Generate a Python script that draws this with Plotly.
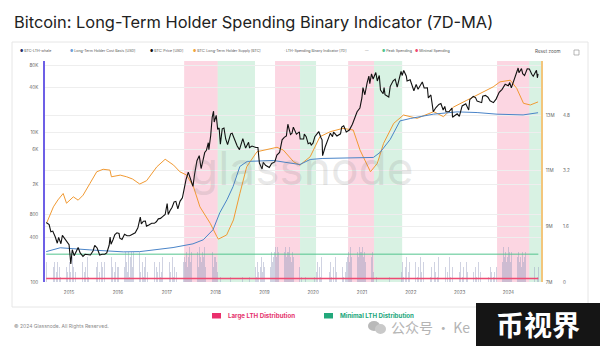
import pandas as pd
import plotly.graph_objects as go

FONT = "Inter, Roboto, 'Noto Sans', sans-serif"

# ---------------- data ----------------
# BTC price [USD]
price_points = [
    ("2014-07-14", 625), ("2014-07-25", 600), ("2014-08-05", 585), ("2014-08-18", 470),
    ("2014-09-01", 480), ("2014-09-20", 400), ("2014-10-05", 330), ("2014-10-15", 395),
    ("2014-11-01", 325), ("2014-11-12", 420), ("2014-12-01", 380), ("2014-12-15", 345),
    ("2015-01-01", 315), ("2015-01-14", 175), ("2015-01-25", 270), ("2015-02-08", 225),
    ("2015-02-20", 245), ("2015-03-10", 290), ("2015-03-25", 245), ("2015-04-15", 220),
    ("2015-05-01", 235), ("2015-05-20", 235), ("2015-06-10", 230), ("2015-06-30", 262),
    ("2015-07-12", 310), ("2015-07-30", 285), ("2015-08-18", 230), ("2015-09-05", 235),
    ("2015-09-25", 235), ("2015-10-10", 245), ("2015-10-28", 310), ("2015-11-04", 400),
    ("2015-11-11", 320), ("2015-11-25", 365), ("2015-12-10", 430), ("2015-12-25", 455),
    ("2016-01-10", 445), ("2016-01-16", 385), ("2016-02-01", 370), ("2016-02-20", 435),
    ("2016-03-10", 415), ("2016-03-30", 415), ("2016-04-20", 440), ("2016-05-10", 455),
    ("2016-05-30", 530), ("2016-06-17", 740), ("2016-06-25", 600), ("2016-07-10", 650),
    ("2016-07-25", 655), ("2016-08-02", 560), ("2016-08-20", 580), ("2016-09-10", 610),
    ("2016-09-30", 610), ("2016-10-15", 640), ("2016-10-30", 700), ("2016-11-15", 710),
    ("2016-12-01", 750), ("2016-12-20", 800), ("2017-01-04", 1120), ("2017-01-12", 800),
    ("2017-01-25", 900), ("2017-02-10", 1000), ("2017-02-25", 1180), ("2017-03-10", 1200),
    ("2017-03-25", 950), ("2017-04-10", 1200), ("2017-04-28", 1340), ("2017-05-10", 1750),
    ("2017-05-25", 2350), ("2017-06-11", 2950), ("2017-06-25", 2500), ("2017-07-16", 1900),
    ("2017-07-28", 2750), ("2017-08-15", 4200), ("2017-09-01", 4900), ("2017-09-15", 3300),
    ("2017-09-30", 4300), ("2017-10-12", 5400), ("2017-10-25", 5800), ("2017-11-08", 7300),
    ("2017-11-12", 5900), ("2017-11-26", 9200), ("2017-12-07", 16000), ("2017-12-17", 19300),
    ("2017-12-22", 13800), ("2018-01-06", 17000), ("2018-01-17", 11000), ("2018-01-28", 11500),
    ("2018-02-06", 7000), ("2018-02-20", 11200), ("2018-03-05", 11500), ("2018-03-18", 8200),
    ("2018-04-01", 6900), ("2018-04-24", 9600), ("2018-05-05", 9800), ("2018-05-29", 7400),
    ("2018-06-12", 6600), ("2018-06-29", 5900), ("2018-07-24", 8300), ("2018-08-14", 6200),
    ("2018-08-31", 7000), ("2018-09-05", 7400), ("2018-09-12", 6300), ("2018-10-01", 6600),
    ("2018-10-30", 6300), ("2018-11-14", 6300), ("2018-11-25", 3900), ("2018-12-15", 3250),
    ("2018-12-24", 4000), ("2019-01-10", 3650), ("2019-02-07", 3400), ("2019-02-25", 3850),
    ("2019-03-20", 4050), ("2019-04-05", 5000), ("2019-04-25", 5400), ("2019-05-14", 8000),
    ("2019-05-30", 8600), ("2019-06-15", 9000), ("2019-06-26", 12900), ("2019-07-16", 9400),
    ("2019-07-27", 9800), ("2019-08-06", 11800), ("2019-08-29", 9500), ("2019-09-20", 10200),
    ("2019-09-26", 8200), ("2019-10-22", 8200), ("2019-10-27", 9500), ("2019-11-10", 8800),
    ("2019-11-25", 7100), ("2019-12-10", 7300), ("2019-12-18", 6800), ("2019-12-31", 7200),
    ("2020-01-14", 8800), ("2020-02-12", 10300), ("2020-02-28", 8600), ("2020-03-08", 8000),
    ("2020-03-12", 4900), ("2020-03-31", 6400), ("2020-04-29", 8800), ("2020-05-09", 9800),
    ("2020-05-25", 8800), ("2020-06-02", 10100), ("2020-06-27", 9000), ("2020-07-24", 9600),
    ("2020-08-02", 11800), ("2020-08-17", 12300), ("2020-09-05", 10200), ("2020-09-28", 10800),
    ("2020-10-21", 12900), ("2020-11-05", 15600), ("2020-11-25", 19000), ("2020-12-16", 21300),
    ("2020-12-31", 29000), ("2021-01-08", 40000), ("2021-01-22", 32000), ("2021-02-08", 46000),
    ("2021-02-21", 57000), ("2021-02-28", 45000), ("2021-03-13", 61000), ("2021-03-25", 52000),
    ("2021-04-14", 63500), ("2021-04-25", 49000), ("2021-05-10", 58000), ("2021-05-19", 37000),
    ("2021-06-08", 33000), ("2021-06-15", 40000), ("2021-06-22", 32000), ("2021-07-20", 29800),
    ("2021-07-31", 41500), ("2021-08-22", 49300), ("2021-09-06", 51800), ("2021-09-21", 40600),
    ("2021-10-06", 55000), ("2021-10-20", 66000), ("2021-10-28", 58000), ("2021-11-09", 67500),
    ("2021-11-28", 57000), ("2021-12-04", 49000), ("2021-12-27", 50700), ("2022-01-10", 41800),
    ("2022-01-24", 36200), ("2022-02-10", 44000), ("2022-02-24", 38000), ("2022-03-28", 47400),
    ("2022-04-11", 39500), ("2022-05-05", 39700), ("2022-05-12", 29000), ("2022-05-31", 31800),
    ("2022-06-18", 19000), ("2022-07-08", 21600), ("2022-07-30", 23800), ("2022-08-14", 24400),
    ("2022-08-31", 20000), ("2022-09-12", 22300), ("2022-09-21", 19000), ("2022-10-15", 19100),
    ("2022-11-05", 21300), ("2022-11-09", 16000), ("2022-11-30", 17100), ("2022-12-14", 17800),
    ("2022-12-30", 16500), ("2023-01-20", 22700), ("2023-02-16", 24300), ("2023-03-10", 20000),
    ("2023-03-18", 27500), ("2023-04-13", 30400), ("2023-04-30", 29300), ("2023-05-12", 26300),
    ("2023-06-15", 25100), ("2023-06-23", 30600), ("2023-07-13", 31400), ("2023-08-01", 29700),
    ("2023-08-17", 26600), ("2023-09-11", 25100), ("2023-10-01", 28000), ("2023-10-24", 34500),
    ("2023-11-15", 37800), ("2023-12-08", 44200), ("2023-12-31", 42300), ("2024-01-11", 46600),
    ("2024-01-23", 39500), ("2024-02-15", 52000), ("2024-02-29", 62500), ("2024-03-14", 73000),
    ("2024-03-20", 63000), ("2024-04-08", 71600), ("2024-04-17", 61300), ("2024-05-01", 57800),
    ("2024-05-21", 71400), ("2024-06-06", 71000), ("2024-06-24", 60300), ("2024-07-05", 56600),
    ("2024-07-29", 68000), ("2024-08-05", 54000), ("2024-08-10", 60800),
]
price_dates = [d for d, _ in price_points]
price_usd = [v for _, v in price_points]

# Long-Term Holder cost basis [USD]
basis_dates = [
    "2014-07-14", "2014-10-27", "2015-06-06", "2016-02-10", "2016-06-13", "2017-02-17",
    "2017-07-16", "2017-10-01", "2017-12-13", "2018-02-02", "2018-03-28", "2018-05-12",
    "2018-07-02", "2018-08-26", "2019-03-08", "2019-09-02", "2019-09-24", "2019-12-10",
    "2020-03-14", "2021-03-27", "2021-05-16", "2021-07-31", "2021-10-12", "2021-12-28",
    "2022-06-18", "2022-12-13", "2023-05-12", "2023-10-08", "2024-04-20", "2024-08-10",
]
basis_usd = [
    255, 287, 269, 253, 255, 289,
    324, 367, 500, 846, 1265, 1890,
    3515, 4105, 4230, 3850, 3730, 4360,
    4500, 4640, 5420, 8100, 14300, 15400,
    17600, 18900, 18500, 17600, 17200, 18400,
]

# Long-Term Holder supply [million BTC]
supply_dates = [
    "2014-07-20", "2014-09-06", "2014-10-10", "2014-11-18", "2014-12-13", "2015-02-02",
    "2015-03-10", "2015-04-16", "2015-06-06", "2015-07-27", "2015-09-13", "2015-11-03",
    "2015-11-14", "2016-01-19", "2016-03-07", "2016-04-20", "2016-06-13", "2016-08-03",
    "2016-10-19", "2016-12-20", "2017-02-21", "2017-04-09", "2017-05-30", "2017-07-20",
    "2017-09-06", "2017-11-22", "2018-01-11", "2018-01-22", "2018-03-25", "2018-05-15",
    "2018-07-02", "2018-08-22", "2018-11-07", "2019-01-19", "2019-04-06", "2019-05-23",
    "2019-08-08", "2019-09-24", "2019-12-10", "2020-02-21", "2020-05-08", "2020-08-11",
    "2020-10-27", "2020-12-17", "2021-03-05", "2021-04-25", "2021-06-11", "2021-08-26",
    "2021-11-07", "2022-02-17", "2022-06-21", "2022-09-02", "2022-11-18", "2023-02-24",
    "2023-06-03", "2023-09-09", "2023-10-30", "2024-01-15", "2024-03-03", "2024-04-23",
    "2024-06-13", "2024-08-10",
]
supply_mbtc = [
    9.15, 9.70, 9.95, 10.18, 9.83, 10.06,
    9.94, 10.12, 10.54, 10.96, 11.05, 11.02,
    10.78, 10.84, 10.78, 10.70, 10.52, 10.64,
    11.14, 11.41, 11.20, 10.96, 10.84, 10.42,
    9.70, 9.11, 8.63, 8.54, 8.69, 9.23,
    10.18, 11.14, 11.68, 11.76, 11.84, 11.74,
    11.32, 11.20, 11.50, 12.22, 12.40, 12.52,
    12.46, 11.74, 10.96, 11.26, 11.98, 12.70,
    13.00, 12.88, 13.12, 12.94, 13.29, 13.53,
    13.78, 14.01, 14.19, 14.25, 13.96, 13.42,
    13.36, 13.47,
]

# LTH spending binary indicator: flagged days inside each weekly 7-day window
spend_starts = ["2014-07-14", "2015-01-05", "2016-01-04", "2017-01-02", "2018-01-01", "2018-12-31",
                "2019-12-30", "2020-12-28", "2021-12-27", "2022-12-26", "2023-12-25"]
spend_2014 = [4, 0, 3, 1, 0, 4, 2, 0, 3, 4, 0, 2, 4, 0, 3, 1, 4, 3, 0, 2, 4, 0, 3, 2, 0]
spend_2015 = [4, 2, 0, 5, 3, 0, 2, 4, 0, 1, 3, 5, 2, 0, 4, 0, 2, 3, 0, 5, 1, 0, 4, 3, 0, 1,
              5, 2, 0, 3, 4, 0, 2, 0, 4, 3, 0, 4, 2, 0, 3, 0, 2, 4, 0, 5, 3, 0, 2, 4, 0, 3]
spend_2016 = [3, 0, 4, 2, 5, 1, 6, 3, 6, 4, 2, 6, 1, 5, 6, 3, 6, 2, 4, 6, 1, 5, 3, 6, 2, 0,
              4, 1, 3, 5, 0, 2, 4, 0, 1, 3, 5, 2, 0, 4, 0, 3, 2, 0, 4, 1, 2, 5, 0, 3, 2, 0]
spend_2017 = [1, 3, 0, 4, 2, 0, 5, 1, 3, 0, 2, 4, 0, 1, 3, 5, 0, 2, 4, 5, 4, 6, 3, 5, 7, 4,
              6, 5, 3, 6, 7, 4, 5, 6, 3, 7, 5, 4, 6, 5, 7, 3, 6, 4, 5, 7, 6, 4, 5, 6, 3, 5]
spend_2018 = [5, 4, 2, 0, 0, 1, 0, 0, 0, 0, 1, 0, 0, 0, 0, 0, 1, 0, 0, 0, 0, 0, 0, 1, 0, 0,
              0, 0, 0, 1, 0, 0, 0, 0, 0, 0, 1, 0, 0, 0, 0, 1, 0, 3, 1, 4, 2, 0, 3, 5, 2, 4]
spend_2019 = [3, 5, 0, 4, 6, 2, 5, 3, 6, 4, 5, 6, 7, 5, 7, 6, 6, 4, 7, 6, 5, 4, 6, 7, 5, 6,
              6, 7, 5, 4, 6, 5, 6, 7, 4, 5, 6, 5, 3, 0, 1, 0, 0, 0, 1, 0, 0, 0, 0, 1, 0, 0]
spend_2020 = [0, 0, 1, 0, 2, 4, 0, 3, 1, 5, 0, 2, 4, 1, 0, 3, 6, 0, 2, 4, 1, 0, 3, 0, 5, 2,
              0, 1, 4, 0, 2, 0, 3, 1, 0, 2, 4, 5, 6, 4, 7, 5, 6, 7, 5, 6, 4, 7, 6, 5, 7, 6]
spend_2021 = [6, 7, 5, 6, 4, 7, 5, 6, 5, 4, 6, 5, 6, 2, 0, 0, 1, 0, 0, 0, 0, 0, 0, 1, 0, 0,
              0, 0, 0, 0, 1, 0, 0, 0, 0, 0, 0, 0, 1, 0, 0, 0, 0, 2, 4, 1, 0, 3, 5, 0, 2, 4]
spend_2022 = [1, 0, 3, 5, 0, 2, 4, 0, 1, 3, 0, 5, 2, 0, 4, 1, 0, 3, 0, 2, 5, 0, 1, 3, 0, 0,
              4, 2, 0, 1, 5, 3, 0, 2, 0, 4, 1, 0, 3, 0, 2, 0, 5, 1, 0, 3, 0, 4, 2, 0, 1, 3]
spend_2023 = [0, 2, 4, 0, 1, 3, 0, 0, 4, 2, 0, 3, 1, 0, 5, 0, 2, 0, 3, 1, 0, 4, 0, 2, 0, 1,
              3, 0, 0, 2, 4, 0, 1, 0, 3, 2, 0, 1, 2, 0, 3, 5, 4, 6, 5, 3, 6, 4, 7, 5, 6, 4]
spend_2024 = [5, 7, 6, 4, 6, 7, 5, 6, 4, 7, 6, 5, 6, 4, 5, 3, 6, 4, 5, 6, 5, 4, 3, 0, 0, 1,
              0, 0, 0, 3, 0, 0, 1, 3]
spend_blocks = [spend_2014, spend_2015, spend_2016, spend_2017, spend_2018, spend_2019,
                spend_2020, spend_2021, spend_2022, spend_2023, spend_2024]
WINDOW_DAYS = 7

# Threshold levels of the indicator
peak_level = 0.8
minimal_level = 0.1

# Distribution regimes
large_dist = [("2017-05-11", "2018-01-17"), ("2019-03-22", "2019-09-25"),
              ("2020-09-19", "2021-04-01"), ("2023-10-08", "2024-06-05")]
minimal_dist = [("2018-01-17", "2018-10-23"), ("2019-09-25", "2020-01-23"),
                ("2021-04-01", "2021-10-28"), ("2024-06-05", "2024-09-01")]

year_ticks = [str(y) for y in range(2015, 2025)]
x_range = ["2014-07-05", "2024-09-01"]

# ---------------- derived series ----------------
spend_dates, spend_values = [], []
for start, block in zip(spend_starts, spend_blocks):
    spend_dates += list(pd.date_range(start, periods=len(block), freq="7D"))
    spend_values += [k / WINDOW_DAYS for k in block]

# ---------------- figure ----------------
L, R, T, B = 45, 20, 61, 64
W, H = 600, 346
PW, PH = W - L - R, H - T - B
PLOT_RIGHT = 541


def px(x):
    return (x - L) / PW


def py(y):
    return (T + PH - y) / PH


fig = go.Figure()

# indicator bars (base axis, drawn underneath)
fig.add_trace(go.Bar(
    x=spend_dates, y=spend_values, yaxis="y", xaxis="x",
    width=4.5 * 86400000, marker=dict(color="rgba(150,158,190,0.45)", line=dict(width=0)),
    name="LTH-Spending Binary Indicator [7D]", showlegend=False,
))
fig.add_trace(go.Scatter(
    x=[spend_dates[0], spend_dates[-1]], y=[peak_level, peak_level], yaxis="y",
    mode="lines", line=dict(color="#52c48e", width=1), showlegend=False,
))
fig.add_trace(go.Scatter(
    x=[spend_dates[0], spend_dates[-1]], y=[minimal_level, minimal_level], yaxis="y",
    mode="lines", line=dict(color="#ee4a72", width=1.6), showlegend=False,
))
# LTH supply
fig.add_trace(go.Scatter(
    x=supply_dates, y=supply_mbtc, yaxis="y2", mode="lines",
    line=dict(color="#f19a33", width=1), showlegend=False,
))
# cost basis and price
fig.add_trace(go.Scatter(
    x=basis_dates, y=basis_usd, yaxis="y3", mode="lines",
    line=dict(color="#4a84c8", width=1), showlegend=False,
))
fig.add_trace(go.Scatter(
    x=price_dates, y=price_usd, yaxis="y3", mode="lines",
    line=dict(color="#111111", width=1.1), showlegend=False,
))

shapes = []
for a, b in large_dist:
    shapes.append(dict(type="rect", xref="x", yref="paper", x0=a, x1=b, y0=0, y1=1,
                       fillcolor="rgba(246,120,160,0.30)", line=dict(width=0), layer="below"))
for a, b in minimal_dist:
    shapes.append(dict(type="rect", xref="x", yref="paper", x0=a, x1=b, y0=0, y1=1,
                       fillcolor="rgba(90,200,140,0.24)", line=dict(width=0), layer="below"))
# card frame
shapes.append(dict(type="rect", xref="paper", yref="paper", x0=px(12), x1=px(588),
                   y0=py(307), y1=py(42), line=dict(color="#e6e6e6", width=1), layer="below"))
# small fullscreen icon
shapes.append(dict(type="rect", xref="paper", yref="paper", x0=px(574), x1=px(579),
                   y0=py(55), y1=py(50), line=dict(color="#9a9a9a", width=0.7)))
# bottom legend swatches
shapes.append(dict(type="rect", xref="paper", yref="paper", x0=px(212), x1=px(221),
                   y0=py(318.5), y1=py(313), fillcolor="#ea2f6c", line=dict(width=0)))
shapes.append(dict(type="rect", xref="paper", yref="paper", x0=px(324), x1=px(333),
                   y0=py(318.5), y1=py(313), fillcolor="#22a87b", line=dict(width=0)))
# chat icon next to the footer note
shapes.append(dict(type="circle", xref="paper", yref="paper", x0=px(368), x1=px(380),
                   y0=py(331), y1=py(321), fillcolor="#b9b9b9", line=dict(width=0)))
shapes.append(dict(type="circle", xref="paper", yref="paper", x0=px(375), x1=px(386),
                   y0=py(334), y1=py(324), fillcolor="#c9c9c9", line=dict(width=0)))
# badge box
shapes.append(dict(type="rect", xref="paper", yref="paper", x0=px(476), x1=px(601),
                   y0=py(347), y1=py(303), fillcolor="#151515", line=dict(width=0)))

ann = []


def text(x, y, s, size, color, xanchor="left", bold=False, family=FONT):
    ann.append(dict(xref="paper", yref="paper", x=px(x), y=py(y), text=f"<b>{s}</b>" if bold else s,
                    showarrow=False, xanchor=xanchor, yanchor="middle",
                    font=dict(size=size, color=color, family=family)))


text(12, 22, "Bitcoin: Long-Term Holder Spending Binary Indicator (7D-MA)", 16.4, "#222222")

legend_items = [
    (18, "#27306b", "\u25cf", "BTC-LTH-whale"),
    (68, "#6f9fd8", "\u25cf", "Long-Term Holder Cost Basis [USD]"),
    (148, "#111111", "\u25cf", "BTC: Price [USD]"),
    (191, "#f0a640", "\u25cf", "BTC: Long-Term Holder Supply [BTC]"),
    (282, "#b8bcd6", "\u00b7", "LTH-Spending Binary Indicator [7D]"),
    (363, "#777777", "\u2014", ""),
    (380, "#52c48e", "\u25cf", "Peak Spending"),
    (413, "#ee4a72", "\u25cf", "Minimal Spending"),
]
for x, c, sym, label in legend_items:
    text(x, 51, f'<span style="color:{c}">{sym}</span> {label}', 3.6, "#555555")
text(533, 52, "Reset zoom", 4.6, "#555555")

text(302, 168, "glassnode", 46, "rgba(120,120,120,0.17)", xanchor="center")

text(226, 315.7, "Large LTH Distribution", 6.2, "#e5336d", bold=True)
text(338, 315.7, "Minimal LTH Distribution", 6.2, "#21a67a", bold=True)
text(12, 326, "\u00a9 2024 Glassnode. All Rights Reserved.", 5, "#8a8a8a")
text(389, 327, "\u516c\u4f17\u53f7 \u00b7 Ke", 14, "#b4b4b4", family="'Noto Sans CJK SC', sans-serif")
text(538, 324, "\u5e01\u89c6\u754c", 28, "#ffffff", xanchor="center", bold=True,
     family="'Noto Sans CJK SC', sans-serif")

tick_font = dict(size=4.6, color="#666666", family=FONT)

fig.update_layout(
    width=W, height=H, margin=dict(l=L, r=R, t=T, b=B),
    paper_bgcolor="white", plot_bgcolor="white",
    showlegend=False, bargap=0,
    shapes=shapes, annotations=ann,
    xaxis=dict(domain=[0, px(PLOT_RIGHT)], type="date", range=x_range, anchor="y",
               tickvals=[f"{y}-01-01" for y in year_ticks], ticktext=year_ticks,
               showgrid=False, showline=False, zeroline=False, ticks="",
               tickfont=tick_font, ticklabelstandoff=6),
    yaxis=dict(range=[0, 6.35], side="right", anchor="free", position=px(562),
               tickvals=[0, 1.6, 3.2, 4.8], ticktext=["0", "1.6", "3.2", "4.8"],
               showgrid=False, showline=False, zeroline=False, ticks="",
               tickfont=tick_font),
    yaxis2=dict(range=[7, 14.94], overlaying="y", side="right", anchor="x",
                tickvals=[7, 9, 11, 13], ticktext=["7M", "9M", "11M", "13M"],
                showgrid=True, gridcolor="#eeeeee", gridwidth=0.6,
                showline=True, linecolor="#f3c67c", linewidth=1.6, zeroline=False, ticks="",
                tickfont=tick_font, ticklabelstandoff=2),
    yaxis3=dict(type="log", range=[2, 4.957], overlaying="y", side="left", anchor="x",
                tickvals=[100, 400, 800, 2000, 6000, 10000, 40000, 80000],
                ticktext=["100", "400", "800", "2K", "6K", "10K", "40K", "80K"],
                showgrid=True, gridcolor="#eeeeee", gridwidth=0.6,
                showline=True, linecolor="#6d5fe6", linewidth=1.6, zeroline=False, ticks="",
                tickfont=tick_font, ticklabelstandoff=4),
)

fig.write_html("out.html")
